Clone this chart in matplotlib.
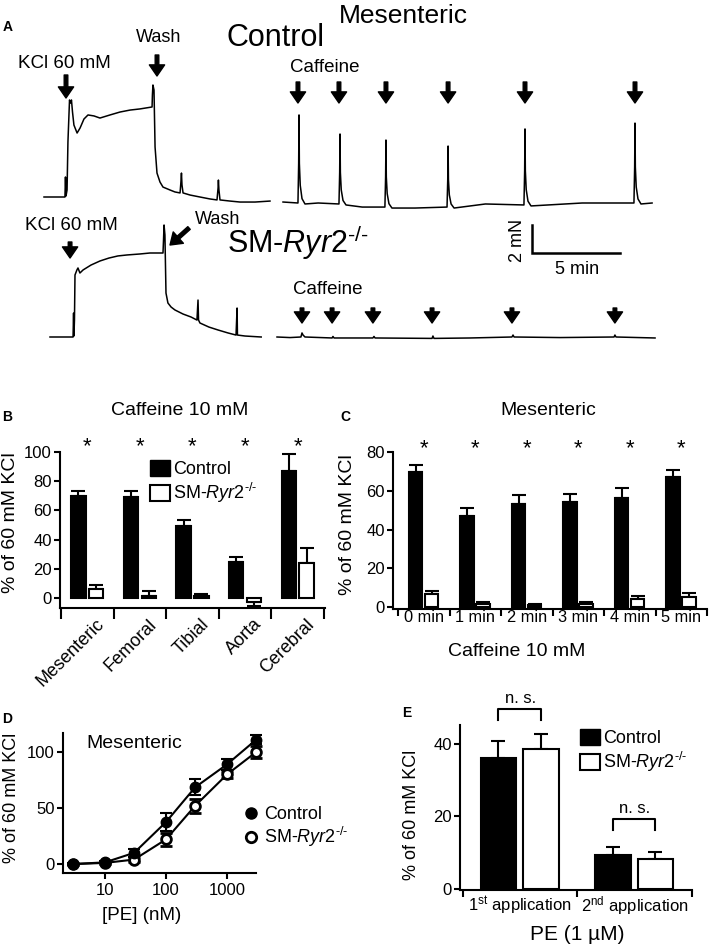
import numpy as np
import matplotlib.pyplot as plt
from matplotlib.patches import Patch
from matplotlib.lines import Line2D

plt.rcParams['font.family'] = ['Liberation Sans', 'DejaVu Sans']
plt.rcParams['mathtext.fontset'] = 'custom'
plt.rcParams['mathtext.rm'] = 'Liberation Sans'
plt.rcParams['mathtext.it'] = 'Liberation Sans:italic'
plt.rcParams['axes.linewidth'] = 1.5

W, H = 709, 944
SM = r'SM-$\mathit{Ryr2}^{\text{-/-}}$'

# ---- panel A: force traces (time in min, force in mN above baseline) ----
ctrl_kcl_t = [0, 1.19, 1.22, 1.25, 1.31, 1.36, 1.45, 1.51, 1.56, 1.62, 1.70, 1.88, 2.05, 2.27,
              2.50, 2.84, 3.18, 3.75, 4.32, 4.89, 5.45, 6.14, 6.16, 6.19, 6.25, 6.31, 6.42,
              6.59, 6.76, 7.16, 7.44, 7.73, 7.78, 7.81, 7.84, 7.90, 8.30, 8.86, 9.43, 9.83,
              9.89, 9.91, 9.94, 10.0, 10.57, 11.14, 11.99, 12.84]
ctrl_kcl_f = [0, 0, 1.43, 0.07, 0.5, 3.93, 6.93, 6.71, 6.93, 6.07, 5.14, 4.57, 4.93, 5.57,
              5.86, 5.79, 5.64, 5.86, 6.07, 6.21, 6.29, 6.43, 7.29, 8.0, 7.64, 3.57, 1.71,
              1.07, 0.71, 0.5, 0.36, 0.29, 1.07, 1.71, 0.86, 0.29, 0.14, 0, -0.14, -0.21,
              0.64, 1.21, 0.5, -0.21, -0.29, -0.36, -0.36, -0.29]
ctrl_caf_t = [0, 0.85, 0.89, 0.91, 0.93, 0.98, 1.08, 1.25, 2.0,
              3.18, 3.22, 3.24, 3.26, 3.31, 3.41, 3.58, 4.5,
              5.79, 5.83, 5.85, 5.87, 5.92, 6.02, 6.19, 7.5,
              9.32, 9.36, 9.38, 9.40, 9.45, 9.55, 9.72, 11.5,
              13.69, 13.73, 13.75, 13.77, 13.82, 13.92, 14.09, 17.0,
              19.94, 19.98, 20.0, 20.02, 20.07, 20.17, 20.34, 20.97]
ctrl_caf_f = [0.07, 0, 2.83, 6.29, 2.83, 1.26, 0.31, -0.07, 0.0,
              -0.07, 2.18, 4.93, 2.18, 0.93, 0.18, -0.14, -0.29,
              -0.29, 1.87, 4.5, 1.87, 0.67, -0.05, -0.36, -0.36,
              -0.29, 1.67, 4.07, 1.67, 0.58, -0.07, -0.36, -0.07,
              -0.14, 2.30, 5.29, 2.30, 0.95, 0.13, -0.21, 0.0,
              0, 2.57, 5.71, 2.57, 1.14, 0.29, -0.07, 0.0]
ctrl_caf_times = [0.85, 3.18, 5.85, 9.38, 13.75, 20.0]

ko_kcl_t = [0, 1.31, 1.34, 1.36, 1.39, 1.42, 1.53, 1.59, 1.70, 1.88, 2.33, 2.84, 3.35, 3.86,
            4.38, 5.11, 5.68, 6.42, 6.45, 6.48, 6.53, 6.59, 6.70, 6.88, 7.10, 7.56, 8.01,
            8.35, 8.41, 8.44, 8.52, 9.03, 9.55, 10.11, 10.57, 10.63, 10.65, 11.08, 12.0]
ko_kcl_f = [0, 0, 1.71, 0.07, 1.21, 4.43, 4.79, 4.93, 4.57, 4.79, 5.14, 5.43, 5.64, 5.79,
            5.86, 5.93, 6.0, 6.0, 6.93, 8.0, 7.29, 3.14, 2.43, 2.14, 1.93, 1.64, 1.43,
            1.21, 2.64, 1.21, 1.0, 0.71, 0.5, 0.29, 0.14, 2.07, 0.14, 0.07, 0]
ko_caf_t = [0, 0.74, 1.36, 1.42, 1.48, 1.59, 3.13, 3.18, 3.24, 5.45, 5.51, 5.57, 8.81, 8.86,
            8.92, 10.97, 13.35, 13.41, 13.47, 16.08, 19.15, 19.2, 19.26, 21.48]
ko_caf_f = [0, -0.04, 0, 0.29, 0.14, 0, -0.07, 0.04, -0.07, -0.07, 0.04, -0.07, -0.1, 0.07,
            -0.1, -0.07, 0, 0.14, 0, -0.04, 0, 0.14, 0, -0.07]
ko_caf_times = [1.42, 3.13, 5.45, 8.81, 13.35, 19.2]

# ---- panel B ----
vessels = ['Mesenteric', 'Femoral', 'Tibial', 'Aorta', 'Cerebral']
b_ctrl = [70, 69, 49, 24.5, 87]
b_ctrl_err = [3.5, 4, 4.5, 3.5, 11.5]
b_ko = [6, 1.5, 1.5, -3, 24]
b_ko_err = [3, 3, 1, 2.5, 10]

# ---- panel C ----
times = ['0 min', '1 min', '2 min', '3 min', '4 min', '5 min']
c_ctrl = [69.7, 47, 53, 54.2, 56.3, 67]
c_ctrl_err = [3.6, 4, 4.6, 4, 5, 3.6]
c_ko = [6.5, 1.5, 1, 1.5, 4, 5]
c_ko_err = [2, 1, 0.5, 1.2, 1.5, 2]

# ---- panel D ----
pe = [3, 10, 30, 100, 300, 1000, 3000]
d_ctrl = [0, 1.5, 10, 37.5, 68.5, 89, 111]
d_ctrl_err = [1, 1, 3.5, 8, 7, 5, 4]
d_ko = [0, 1, 4, 22, 52, 80, 100]
d_ko_err = [1, 1, 2, 6, 6, 3, 5]

# ---- panel E ----
apps = [r'1$^{\mathrm{st}}$ application', r'2$^{\mathrm{nd}}$ application']
e_ctrl = [36.2, 9.4]
e_ctrl_err = [4.7, 2.3]
e_ko = [38.6, 8.3]
e_ko_err = [4.1, 1.8]

fig = plt.figure(figsize=(W / 100, H / 100), dpi=100)


def fpos(x, y):
    return x / W, 1 - y / H


def rect(x0, y0, x1, y1):
    return [x0 / W, 1 - y1 / H, (x1 - x0) / W, (y1 - y0) / H]


def ftext(x, y, s, size=13, **kw):
    kw.setdefault('ha', 'center')
    kw.setdefault('va', 'center')
    fig.text(*fpos(x, y), s, fontsize=size, **kw)


# ================= A =================
PX_MIN, PX_MN = 17.6, 14.0
axA = fig.add_axes([0, 1 - 400 / H, 1, 400 / H])
axA.set_xlim(0, W / PX_MIN)
axA.set_ylim(-400 / PX_MN, 0)
axA.axis('off')


def trace(t, f, x0, y0):
    axA.plot(np.asarray(t) + x0 / PX_MIN, np.asarray(f) - y0 / PX_MN, color='k', lw=1.1)


def arrow(t, x0, y_tail, y_tip, dx=0.0):
    axA.annotate('', xy=(t + x0 / PX_MIN, -y_tip / PX_MN),
                 xytext=(t + (x0 + dx) / PX_MIN, -y_tail / PX_MN),
                 arrowprops=dict(fc='k', ec='k', width=2.6, headwidth=11,
                                 headlength=8, shrink=0))


trace(ctrl_kcl_t, ctrl_kcl_f, 44, 197)
trace(ctrl_caf_t, ctrl_caf_f, 283, 203)
trace(ko_kcl_t, ko_kcl_f, 50, 337)
trace(ko_caf_t, ko_caf_f, 277, 337)

arrow(1.25, 44, 75, 98)
arrow(6.42, 44, 55, 76)
for t in ctrl_caf_times:
    arrow(t, 283, 82, 103)
arrow(1.14, 50, 242, 258)
arrow(6.82, 50, 228, 245, dx=19)
for t in ko_caf_times:
    arrow(t, 277, 308, 323)

sx, sy = 532 / PX_MIN, -253 / PX_MN
axA.plot([sx, sx, sx + 5], [sy + 2, sy, sy], color='k', lw=1.8, solid_joinstyle='miter')

ftext(8, 27, 'A', 10, weight='bold')
ftext(403, 16, 'Mesenteric', 19)
ftext(275, 38, 'Control', 22)
ftext(64, 63, 'KCl 60 mM', 13.5)
ftext(159, 37, 'Wash', 13)
ftext(290, 67, 'Caffeine', 13.5, ha='left')
ftext(71, 225, 'KCl 60 mM', 13.5)
ftext(195, 220, 'Wash', 13, ha='left')
ftext(227, 253, SM, 22, ha='left', va='baseline')
ftext(518, 240, '2 mN', 13, rotation=90)
ftext(577, 269, '5 min', 13)
ftext(293, 290, 'Caffeine', 13.5, ha='left')


def style(ax):
    for s in ['top', 'right']:
        ax.spines[s].set_visible(False)
    ax.tick_params(axis='y', direction='out', length=4, width=1.5, labelsize=12, pad=2)


def bars(ax, x, vals, errs, off, w, color):
    vals = np.asarray(vals, float)
    errs = np.asarray(errs, float)
    ax.bar(x + off, vals, w, color=color, edgecolor='k', lw=1.5, zorder=2)
    lo = np.where(vals < 0, errs, 0)
    hi = np.where(vals >= 0, errs, 0)
    ax.errorbar(x + off, vals, yerr=[lo, hi], fmt='none', ecolor='k', elinewidth=1.5,
                capsize=5, capthick=1.5, zorder=1)


# ================= B =================
axB = fig.add_axes(rect(60, 452, 325, 608))
xb = np.arange(len(vessels))
bars(axB, xb, b_ctrl, b_ctrl_err, -0.17, 0.27, 'k')
bars(axB, xb, b_ko, b_ko_err, 0.17, 0.27, 'w')
axB.set_xlim(-0.52, 4.52)
axB.set_ylim(-6.85, 100)
axB.set_yticks([0, 20, 40, 60, 80, 100])
axB.set_xticks(np.arange(-0.5, 5, 1), [])
style(axB)
axB.tick_params(axis='x', direction='out', length=8, width=1.5)
for i, name in enumerate(vessels):
    axB.text(i + 0.15, -0.05, name, transform=axB.get_xaxis_transform(), rotation=45,
             ha='right', va='top', rotation_mode='anchor', fontsize=13)
    axB.text(i, 103.8, '*', ha='center', va='center', fontsize=16, clip_on=False)
axB.legend([Patch(fc='k', ec='k'), Patch(fc='w', ec='k', lw=1.5)], ['Control', SM],
           loc='upper left', bbox_to_anchor=fpos(150, 460), bbox_transform=fig.transFigure,
           frameon=False, fontsize=13, handlelength=1.1, handleheight=1.0,
           handletextpad=0.2, labelspacing=0.15, borderpad=0, borderaxespad=0)
ftext(7, 417, 'B', 10, weight='bold')
ftext(180, 410, 'Caffeine 10 mM', 14)
ftext(11, 523, '% of 60 mM KCl', 14, rotation=90)

# ================= C =================
axC = fig.add_axes(rect(393, 452, 707, 609))
xc = np.arange(len(times))
bars(axC, xc, c_ctrl, c_ctrl_err, -0.16, 0.26, 'k')
bars(axC, xc, c_ko, c_ko_err, 0.15, 0.26, 'w')
axC.set_xlim(-0.6, 5.5)
axC.set_ylim(-1.03, 80)
axC.set_yticks([0, 20, 40, 60, 80])
axC.set_xticks(np.arange(-0.5, 6, 1), [])
axC.set_xticks(xc, times, minor=True)
style(axC)
axC.tick_params(axis='x', which='major', direction='out', length=5, width=1.5)
axC.tick_params(axis='x', which='minor', length=0, labelsize=11.8, pad=1)
for i in xc:
    axC.text(i, 81.8, '*', ha='center', va='center', fontsize=16, clip_on=False)
ftext(345, 417, 'C', 10, weight='bold')
ftext(548, 410, 'Mesenteric', 14)
ftext(347, 525, '% of 60 mM KCl', 14, rotation=90)
ftext(517, 652, 'Caffeine 10 mM', 14)

# ================= D =================
axD = fig.add_axes(rect(63, 733, 256, 873))
axD.errorbar(pe, d_ctrl, yerr=d_ctrl_err, fmt='-o', color='k', mfc='k', mec='k', ms=7.5,
             lw=1.5, elinewidth=1.5, capsize=4, capthick=1.5, clip_on=False, zorder=3)
axD.errorbar(pe, d_ko, yerr=d_ko_err, fmt='-o', color='k', mfc='w', mec='k', ms=7, mew=2,
             lw=1.5, elinewidth=1.5, capsize=4, capthick=1.5, clip_on=False, zorder=2)
axD.set_xscale('log')
axD.set_xlim(2.05, 2985)
axD.set_ylim(-8, 117)
axD.set_xticks([10, 100, 1000], ['10', '100', '1000'])
axD.xaxis.set_minor_locator(plt.NullLocator())
axD.set_yticks([0, 50, 100])
style(axD)
axD.tick_params(axis='x', direction='out', length=4, width=1.5, labelsize=12, pad=3)
axD.legend([Line2D([], [], ls='none', marker='o', color='k', ms=8),
            Line2D([], [], ls='none', marker='o', mfc='w', mec='k', mew=2, ms=7.5)],
           ['Control', SM], loc='upper left', bbox_to_anchor=fpos(245, 806),
           bbox_transform=fig.transFigure, frameon=False, fontsize=13, handlelength=0.7,
           handletextpad=0.35, labelspacing=0.1, borderpad=0, borderaxespad=0)
ftext(7, 719, 'D', 10, weight='bold')
ftext(134, 743, 'Mesenteric', 14)
ftext(142, 915, '[PE] (nM)', 13.5)
ftext(12, 798, '% of 60 mM KCl', 13, rotation=90)

# ================= E =================
axE = fig.add_axes(rect(460, 725, 692, 890))
xe = np.arange(len(apps))
bars(axE, xe, e_ctrl, e_ctrl_err, -0.19, 0.31, 'k')
bars(axE, xe, e_ko, e_ko_err, 0.18, 0.31, 'w')
axE.set_xlim(-0.526, 1.5)
axE.set_ylim(-0.28, 45.2)
axE.set_yticks([0, 20, 40])
axE.set_xticks([-0.5, 0.5, 1.5], [])
axE.set_xticks(xe, apps, minor=True)
style(axE)
axE.tick_params(axis='x', which='major', direction='out', length=5, width=1.5)
axE.tick_params(axis='x', which='minor', length=0, labelsize=12, pad=3)
for i, (yb, yl, yt) in enumerate([(49.7, 46.6, 52.4), (19.3, 16.3, 22.1)]):
    axE.plot([i - 0.19, i - 0.19, i + 0.18, i + 0.18], [yl, yb, yb, yl], color='k', lw=1.5,
             clip_on=False)
    axE.text(i, yt, 'n. s.', ha='center', va='center', fontsize=12, clip_on=False)
axE.legend([Patch(fc='k', ec='k'), Patch(fc='w', ec='k', lw=1.5)], ['Control', SM],
           loc='upper left', bbox_to_anchor=fpos(580, 729), bbox_transform=fig.transFigure,
           frameon=False, fontsize=13, handlelength=1.1, handleheight=1.0,
           handletextpad=0.2, labelspacing=0.15, borderpad=0, borderaxespad=0)
ftext(407, 713, 'E', 10, weight='bold')
ftext(577, 935, 'PE (1 µM)', 15)
ftext(412, 815, '% of 60 mM KCl', 13, rotation=90)

fig.savefig('out.png', dpi=100)
